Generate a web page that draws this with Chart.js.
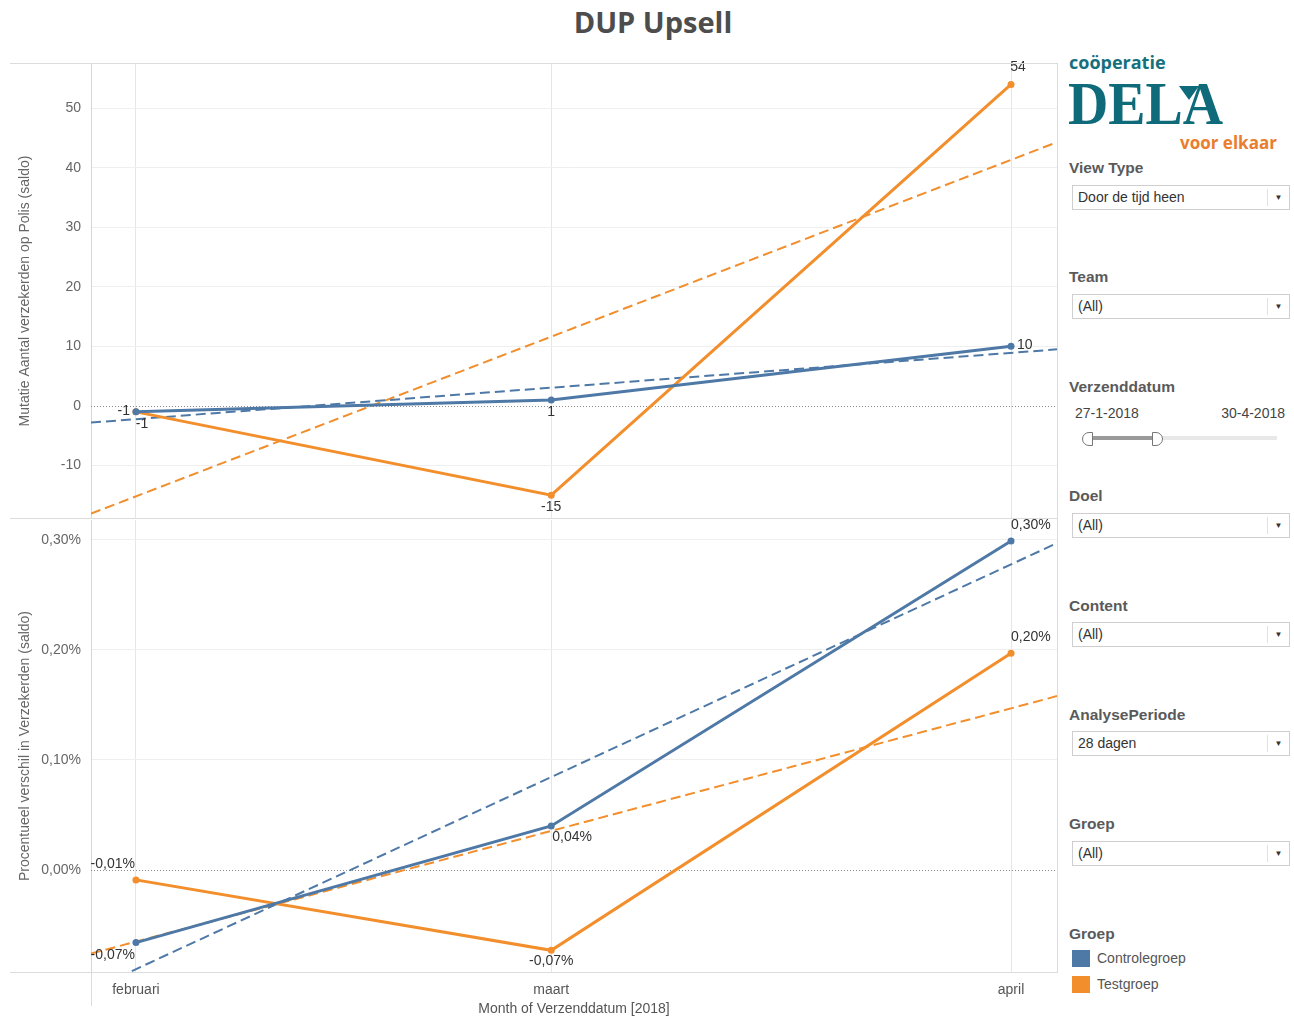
<!DOCTYPE html>
<html>
<head>
<meta charset="utf-8">
<script src="https://cdn.jsdelivr.net/npm/chart.js@4.4.1/dist/chart.umd.min.js"></script>
<style>
  body { margin: 0; background: #fff; font-family: Arial, "Liberation Sans", sans-serif; }
  #wrap { position: relative; width: 1294px; height: 1020px; overflow: hidden; }
  #title { position: absolute; left: 0; width: 1306px; top: 2px; text-align: center;
    font: bold 29px "Open Sans", "Noto Sans", sans-serif; color: #4d4d4d; }
  .box { position: absolute; }
  .line { position: absolute; background: #dcdcdc; }
  .lbl { position: absolute; left: 1069px; font-size: 15.5px; font-weight: bold; color: #5a5a5a; }
  .dd { position: absolute; left: 1072px; width: 216px; height: 23px; border: 1px solid #cfcfcf;
    background: #fff; font-size: 14px; color: #333; line-height: 23px; box-sizing: content-box; }
  .dd span { position: absolute; left: 5px; }
  .dd i { position: absolute; right: 0; top: 3px; width: 21px; height: 17px; border-left: 1px solid #e2e2e2;
    font-style: normal; font-size: 8px; line-height: 17px; text-align: center; color: #333; }
  .sw { position: absolute; left: 1072px; width: 18px; height: 17px; }
  .lt { position: absolute; left: 1097px; font-size: 14px; color: #555; }
</style>
</head>
<body>
<div id="wrap">
  <div id="title">DUP Upsell</div>

  <div class="box" style="left:0;top:50px;width:1057px;height:469px"><canvas id="top"></canvas></div>
  <div class="box" style="left:0;top:519px;width:1057px;height:501px"><canvas id="bottom"></canvas></div>

  <div class="line" style="left:10px;top:63px;width:1047px;height:1px"></div>
  <div class="line" style="left:10px;top:518px;width:1047px;height:1px"></div>
  <div class="line" style="left:10px;top:972px;width:1047px;height:1px"></div>
  <div class="line" style="left:1057px;top:63px;width:1px;height:910px"></div>
  <div class="line" style="left:91px;top:972px;width:1px;height:34px"></div>

  <!-- logo -->
  <div style="position:absolute;left:1069px;top:50px;font:bold 18px 'Open Sans','Noto Sans',sans-serif;color:#15707d">coöperatie</div>
  <div style="position:absolute;left:1068px;top:68px;font:bold 62px 'Liberation Serif','DejaVu Serif',serif;color:#0f6b79;transform:scaleX(0.9);transform-origin:left top">DELA</div>
  <div style="position:absolute;left:1179px;top:86px;width:0;height:0;border-left:10px solid transparent;border-right:10px solid transparent;border-top:14px solid #0f6b79"></div>
  <div style="position:absolute;left:1180px;top:131px;font:bold 17px 'Open Sans','Noto Sans',sans-serif;color:#ea7d2e">voor elkaar</div>

  <div class="lbl" style="top:159px">View Type</div>
  <div class="dd" style="top:185px"><span>Door de tijd heen</span><i>&#9660;</i></div>

  <div class="lbl" style="top:268px">Team</div>
  <div class="dd" style="top:294px"><span>(All)</span><i>&#9660;</i></div>

  <div class="lbl" style="top:378px">Verzenddatum</div>
  <div style="position:absolute;left:1075px;top:405px;font-size:14px;color:#444">27-1-2018</div>
  <div style="position:absolute;right:9px;top:405px;font-size:14px;color:#444">30-4-2018</div>
  <div style="position:absolute;left:1085px;top:436px;width:192px;height:4px;background:#e8e8e8"></div>
  <div style="position:absolute;left:1090px;top:436px;width:66px;height:4px;background:#9a9a9a"></div>
  <div style="position:absolute;left:1082px;top:432px;width:9px;height:12px;border:1px solid #777;border-radius:7px 0 0 7px;background:#fff"></div>
  <div style="position:absolute;left:1152px;top:432px;width:9px;height:12px;border:1px solid #777;border-radius:0 7px 7px 0;background:#fff"></div>

  <div class="lbl" style="top:487px">Doel</div>
  <div class="dd" style="top:513px"><span>(All)</span><i>&#9660;</i></div>

  <div class="lbl" style="top:597px">Content</div>
  <div class="dd" style="top:622px"><span>(All)</span><i>&#9660;</i></div>

  <div class="lbl" style="top:706px">AnalysePeriode</div>
  <div class="dd" style="top:731px"><span>28 dagen</span><i>&#9660;</i></div>

  <div class="lbl" style="top:815px">Groep</div>
  <div class="dd" style="top:841px"><span>(All)</span><i>&#9660;</i></div>

  <div class="lbl" style="top:925px">Groep</div>
  <div class="sw" style="top:950px;background:#4e79a7"></div>
  <div class="lt" style="top:950px">Controlegroep</div>
  <div class="sw" style="top:976px;background:#f28e2b"></div>
  <div class="lt" style="top:976px">Testgroep</div>
</div>

<script>
// months on a day axis (days since 1 feb 2018)
const months = ["februari", "maart", "april"]
const monthDays = [0, 28, 59]
const dayMin = -3.03
const dayMax = 62.1

// Mutatie Aantal verzekerden op Polis (saldo)
const ctrlCount = [-1, 1, 10]
const testCount = [-1, -15, 54]
const ctrlCountTrend = [-2.8, 9.5]   // trend line at dayMin / dayMax
const testCountTrend = [-18.1, 44.3]
const countTicks = [-10, 0, 10, 20, 30, 40, 50]

// Procentueel verschil in Verzekerden (saldo), in %
const ctrlPct = [-0.066, 0.04, 0.299]
const testPct = [-0.009, -0.073, 0.197]
const ctrlPctTrend = [-0.109, 0.297]
const testPctTrend = [-0.076, 0.158]
const pctTicks = [0, 0.1, 0.2, 0.3]

const BLUE = "#4e79a7"
const ORANGE = "#f28e2b"
const FONT = "Arial, 'Liberation Sans', sans-serif"

const points = (vals) => monthDays.map((d, i) => ({ x: d, y: vals[i] }))
const trend = (vals) => [{ x: dayMin, y: vals[0] }, { x: dayMax, y: vals[1] }]
const pctText = (v) => v.toFixed(2).replace(".", ",") + "%"

function lineSet(vals, color, labelPos, fmt) {
  return {
    data: points(vals), borderColor: color, backgroundColor: color, borderWidth: 3,
    pointRadius: 3.5, pointBackgroundColor: color, pointBorderWidth: 0,
    labelPos: labelPos, fmt: fmt, order: 1
  }
}
function trendSet(vals, color) {
  return {
    data: trend(vals), borderColor: color, borderWidth: 2, borderDash: [10, 5],
    pointRadius: 0, order: 2
  }
}

const zeroLine = {
  id: "zeroLine",
  beforeDatasetsDraw(chart) {
    const { ctx, chartArea, scales } = chart
    const y = Math.round(scales.y.getPixelForValue(0)) + 0.5
    ctx.save()
    ctx.strokeStyle = "#8a8a8a"
    ctx.lineWidth = 1
    ctx.setLineDash([1, 2])
    ctx.beginPath()
    ctx.moveTo(chartArea.left, y)
    ctx.lineTo(chartArea.right, y)
    ctx.stroke()
    ctx.restore()
  }
}

const pointLabels = {
  id: "pointLabels",
  afterDatasetsDraw(chart) {
    const ctx = chart.ctx
    ctx.save()
    ctx.font = "14px " + FONT
    ctx.fillStyle = "#333"
    ctx.textBaseline = "middle"
    chart.data.datasets.forEach((ds, di) => {
      if (!ds.labelPos) return
      chart.getDatasetMeta(di).data.forEach((pt, i) => {
        const [dx, dy, align] = ds.labelPos[i]
        ctx.textAlign = align
        ctx.fillText(ds.fmt(ds.data[i].y), pt.x + dx, pt.y + dy)
      })
    })
    ctx.restore()
  }
}

function options(yMin, yMax, yTicks, yFmt, yTitle, showX) {
  return {
    responsive: true,
    maintainAspectRatio: false,
    animation: false,
    layout: { autoPadding: false, padding: { top: showX ? 1 : 13, right: 0, left: 0, bottom: 0 } },
    plugins: { legend: { display: false }, tooltip: { enabled: false } },
    scales: {
      x: {
        type: "linear", min: dayMin, max: dayMax,
        afterBuildTicks: (axis) => { axis.ticks = monthDays.map((d) => ({ value: d })) },
        afterFit: (axis) => {
          axis.height = showX ? 48 : 0
          axis.paddingLeft = 0
          axis.paddingRight = 0
        },
        grid: { color: "#e6e6e6", drawTicks: false },
        border: { display: false },
        ticks: {
          display: showX, padding: 10, color: "#555", font: { family: FONT, size: 14 },
          callback: (v) => months[monthDays.indexOf(v)]
        },
        title: {
          display: showX, text: "Month of Verzenddatum [2018]", color: "#555",
          font: { family: FONT, size: 14 }, padding: { top: 0, bottom: 2 }
        }
      },
      y: {
        min: yMin, max: yMax,
        afterBuildTicks: (axis) => { axis.ticks = yTicks.map((v) => ({ value: v })) },
        afterFit: (axis) => {
          axis.width = 91
          axis.paddingTop = 0
          axis.paddingBottom = 0
        },
        grid: {
          drawTicks: false,
          color: (c) => (c.tick && c.tick.value === 0 ? "rgba(0,0,0,0)" : "#efefef")
        },
        border: { display: true, color: "#d6d6d6" },
        ticks: { padding: 10, color: "#666", font: { family: FONT, size: 14 }, callback: yFmt },
        title: {
          display: true, text: yTitle, color: "#666",
          font: { family: FONT, size: 14 }, padding: { top: 17, bottom: 0 }
        }
      }
    }
  }
}

new Chart(document.getElementById("top"), {
  type: "line",
  data: {
    datasets: [
      lineSet(ctrlCount, BLUE, [[-6, -1, "right"], [0, 12, "center"], [6, -1, "left"]], (v) => String(v)),
      lineSet(testCount, ORANGE, [[6, 12, "center"], [0, 12, "center"], [7, -17, "center"]], (v) => String(v)),
      trendSet(ctrlCountTrend, BLUE),
      trendSet(testCountTrend, ORANGE)
    ]
  },
  options: options(-19.0, 57.6, countTicks, (v) => String(v), "Mutatie Aantal verzekerden op Polis (saldo)", false),
  plugins: [zeroLine, pointLabels]
})

new Chart(document.getElementById("bottom"), {
  type: "line",
  data: {
    datasets: [
      lineSet(ctrlPct, BLUE, [[-1, 13, "right"], [1, 11, "left"], [0, -16, "left"]], pctText),
      lineSet(testPct, ORANGE, [[-1, -16, "right"], [0, 11, "center"], [0, -16, "left"]], pctText),
      trendSet(ctrlPctTrend, BLUE),
      trendSet(testPctTrend, ORANGE)
    ]
  },
  options: options(-0.0927, 0.318, pctTicks, pctText, "Procentueel verschil in Verzekerden (saldo)", true),
  plugins: [zeroLine, pointLabels]
})
</script>
</body>
</html>
